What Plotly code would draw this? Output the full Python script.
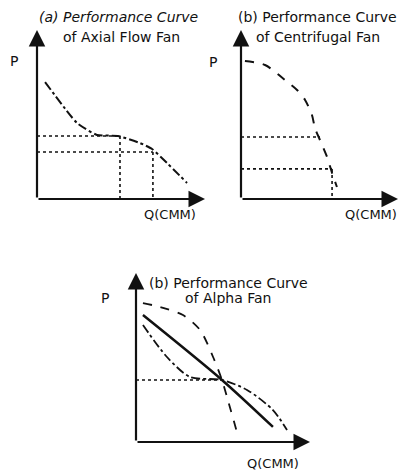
import plotly.graph_objects as go

W, H = 403, 473

# ---- data (arbitrary units, 0..10 on each axis) ----
axial_q = [0.48, 2.38, 3.57, 4.82, 6.13, 6.85, 7.74, 8.93]
axial_p = [6.92, 4.50, 3.79, 3.73, 3.31, 2.96, 2.13, 0.95]
axial_op_q = [4.94, 6.90]
axial_op_p = [3.73, 2.78]

centri_q = [0.25, 1.53, 2.80, 3.57, 4.08, 4.52, 4.71, 5.03, 5.48, 5.80, 6.11]
centri_p = [8.17, 7.93, 7.04, 6.45, 5.86, 4.97, 4.20, 3.49, 2.49, 1.54, 0.71]
centri_op_q = [5.03, 5.80]
centri_op_p = [3.67, 1.78]

alpha_solid_q = [0.40, 4.94, 7.87]
alpha_solid_p = [7.51, 3.67, 0.89]
alpha_dash_q = [0.40, 1.38, 2.70, 3.68, 4.43, 4.94, 5.23, 5.80]
alpha_dash_p = [8.22, 7.99, 7.51, 6.63, 5.03, 3.67, 2.66, 0.59]
alpha_dd_q = [0.40, 1.78, 3.10, 4.94, 6.38, 7.87, 8.68]
alpha_dd_p = [6.92, 5.03, 3.85, 3.67, 3.08, 1.89, 0.71]
alpha_op_q = [4.94]
alpha_op_p = [3.67]

titles1 = ["(a) Performance Curve", "(b) Performance Curve", "(b) Performance Curve"]
titles2 = ["of Axial Flow Fan", "of Centrifugal Fan", "of Alpha Fan"]

def px(x):
    return x / W

def py(y):
    return 1 - y / H

fig = go.Figure()
FONT = "DejaVu Sans"
K = "#111111"

panels = [
    dict(xd=[px(37), px(205)], yd=[py(199), py(30)]),
    dict(xd=[px(241), px(398)], yd=[py(199), py(30)]),
    dict(xd=[px(136), px(310)], yd=[py(442), py(273)]),
]
for i, p in enumerate(panels):
    sfx = "" if i == 0 else str(i + 1)
    fig.update_layout(**{
        "xaxis" + sfx: dict(domain=p["xd"], range=[0, 10], visible=False,
                            anchor="y" + sfx),
        "yaxis" + sfx: dict(domain=p["yd"], range=[0, 10], visible=False,
                            anchor="x" + sfx),
    })

def add_line(x, y, ax, dash, width, smoothing=0.8):
    xa = "x" + ("" if ax == 1 else str(ax))
    ya = "y" + ("" if ax == 1 else str(ax))
    fig.add_trace(go.Scatter(x=x, y=y, mode="lines", xaxis=xa, yaxis=ya,
                             line=dict(color=K, dash=dash, width=width,
                                       shape="spline", smoothing=smoothing),
                             showlegend=False, hoverinfo="skip"))

def add_op(qs, ps, ax, vertical_from):
    xa = "x" + ("" if ax == 1 else str(ax))
    ya = "y" + ("" if ax == 1 else str(ax))
    for j, (q, p) in enumerate(zip(qs, ps)):
        fig.add_trace(go.Scatter(x=[0, q], y=[p, p], mode="lines", xaxis=xa, yaxis=ya,
                                 line=dict(color=K, dash="dot", width=1.6),
                                 showlegend=False, hoverinfo="skip"))
        if vertical_from[j]:
            fig.add_trace(go.Scatter(x=[q, q], y=[p, 0], mode="lines", xaxis=xa, yaxis=ya,
                                     line=dict(color=K, dash="dot", width=1.6),
                                     showlegend=False, hoverinfo="skip"))

# panel a
add_line(axial_q, axial_p, 1, "dashdot", 2, smoothing=0.5)
add_op(axial_op_q, axial_op_p, 1, [True, True])
# panel b
add_line(centri_q, centri_p, 2, "dash", 2)
add_op(centri_op_q, centri_op_p, 2, [False, True])
# panel c
add_line(alpha_solid_q, alpha_solid_p, 3, None, 2.5)
add_line(alpha_dash_q, alpha_dash_p, 3, "dash", 1.8)
add_line(alpha_dd_q, alpha_dd_p, 3, "dashdot", 1.8)
add_op(alpha_op_q, alpha_op_p, 3, [False])

# axes arrows
for i in range(3):
    sfx = "" if i == 0 else str(i + 1)
    for (hx, hy) in [(10, 0), (0, 10)]:
        fig.add_annotation(x=hx, y=hy, ax=0, ay=0, xref="x" + sfx, yref="y" + sfx,
                           axref="x" + sfx, ayref="y" + sfx, showarrow=True,
                           arrowhead=2, arrowsize=1.5, arrowwidth=2.2,
                           arrowcolor=K, text="")

# text
title_pos = [((118, 17), (121, 37)), ((317, 17), (318, 37)), ((228, 283), (228, 298))]
for i in range(3):
    (x1, y1), (x2, y2) = title_pos[i]
    t1 = "<i>" + titles1[i] + "</i>" if i == 0 else titles1[i]
    fig.add_annotation(x=px(x1), y=py(y1), xref="paper", yref="paper", text=t1,
                       showarrow=False, font=dict(family=FONT, size=14, color=K),
                       xanchor="center", yanchor="middle")
    fig.add_annotation(x=px(x2), y=py(y2), xref="paper", yref="paper", text=titles2[i],
                       showarrow=False, font=dict(family=FONT, size=14, color=K),
                       xanchor="center", yanchor="middle")

for (x, y) in [(14, 61), (213, 62), (105, 298)]:
    fig.add_annotation(x=px(x), y=py(y), xref="paper", yref="paper", text="P",
                       showarrow=False, font=dict(family=FONT, size=14, color=K),
                       xanchor="center", yanchor="middle")
for (x, y) in [(170, 214), (371, 214), (273, 463)]:
    fig.add_annotation(x=px(x), y=py(y), xref="paper", yref="paper", text="Q(CMM)",
                       showarrow=False, font=dict(family=FONT, size=13, color=K),
                       xanchor="center", yanchor="middle", borderpad=0)

fig.update_layout(width=W, height=H, margin=dict(l=0, r=0, t=0, b=0),
                  paper_bgcolor="white", plot_bgcolor="white")
fig.write_html("out.html")
